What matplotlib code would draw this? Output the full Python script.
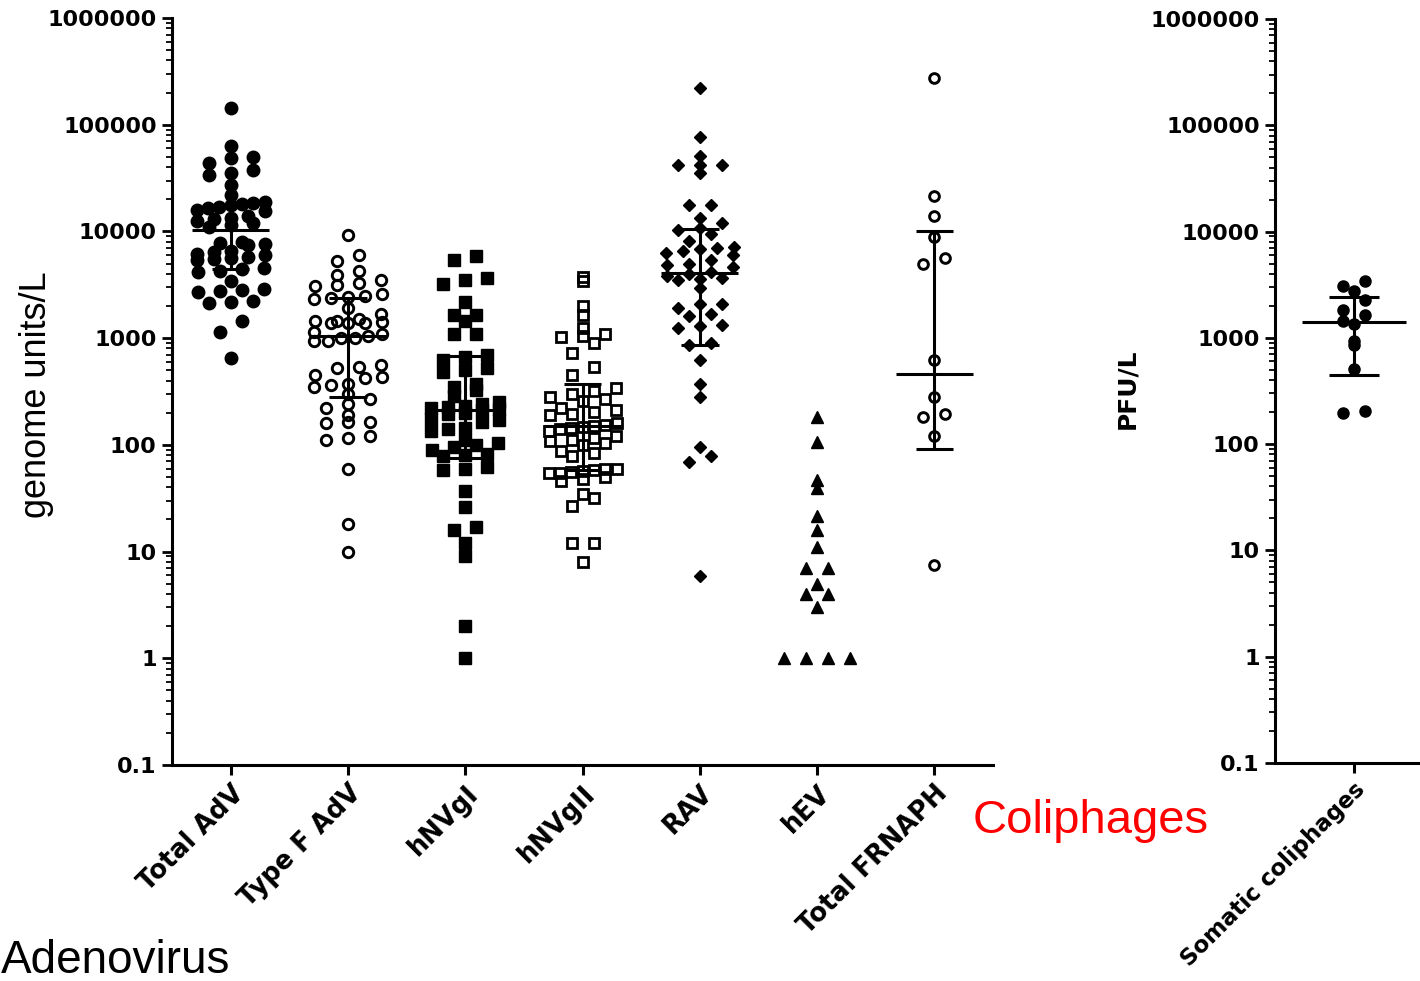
import numpy as np
import matplotlib
matplotlib.use("Agg")
import matplotlib.pyplot as plt
from matplotlib.ticker import FixedLocator, LogLocator, NullFormatter

# ---- data ----
categories = ["Total AdV", "Type F AdV", "hNVgI", "hNVgII", "RAV", "hEV", "Total FRNAPH"]

total_adv = [142000, 63000, 50000, 49000, 44000, 38000, 35000, 34000, 27500, 22000,
             19000, 18500, 18000, 17500, 17000, 16500, 16000, 15500,
             14000, 13500, 13000, 12500, 12000, 11500, 11000,
             8000, 7800, 7600, 7400,
             6600, 6400, 6200, 6000, 5800,
             5600, 5500, 5400,
             4500, 4400, 4300, 4200,
             3400,
             2900, 2800, 2750, 2700,
             2250, 2200, 2150,
             1440, 1150, 650]
type_f_adv = [9300, 6000, 5300, 4300, 3900, 3500, 3300, 3150, 3100, 2600, 2500, 2450,
              2400, 2350, 1900, 1700, 1500, 1450, 1450, 1420, 1400, 1400, 1380, 1150,
              1100, 1050, 1000, 1000, 950, 950, 560, 540, 520, 450, 430, 420, 370, 360,
              350, 300, 270, 240, 220, 190, 165, 165, 160, 120, 115, 110, 60, 18, 10]
hnvg1 = [5900, 5400, 3650, 3500, 3200, 2200, 1650, 1650, 1440, 1100, 1100,
         700, 660, 630, 520, 500, 480, 370, 350, 330, 290,
         250, 240, 230, 225, 220, 215, 210, 200, 195,
         175, 170, 165, 145, 140, 135,
         110, 105, 100, 95, 90, 82, 80, 78, 62, 60, 58,
         37, 26, 17, 16, 12, 9, 2, 1]
hnvg2 = [3750, 3450, 2000, 1650, 1250, 1100, 1050, 1030, 900, 720, 540, 450,
         340, 320, 300, 280, 270, 255,
         220, 210, 205, 195, 190,
         160, 155, 150, 148, 145, 140, 135,
         120, 115, 112, 108, 105, 100,
         88, 83, 78,
         60, 59, 58, 57, 56, 55, 54,
         50, 48, 46, 35, 32, 27, 12, 12, 8]
rav = [223000, 77000, 51000, 42000, 42000, 42000, 35000, 17600, 17600, 13500, 12000,
       10800, 10300, 9500, 8200, 7200, 7000, 6800, 6600, 6300, 6000, 5400, 5000, 4800,
       4600, 4200, 4000, 3800, 3700, 3600, 3500, 2950, 2100, 2100, 1900, 1700, 1600,
       1320, 1300, 1250, 900, 860, 620, 370, 280, 96, 79, 69, 5.9]
hev = [183, 107, 47, 39, 21.5, 16, 11, 7, 7, 5, 4, 4, 3, 1, 1, 1, 1]
frnaph = [275000, 21300, 14000, 8900, 5600, 4900, 630, 280, 195, 183, 120, 7.5]

somatic = [3450, 3100, 2750, 2270, 1830, 1650, 1450, 1350, 930, 850, 510, 205, 195]

# median and interquartile bars (None = no bar drawn)
medians = [10400, 1050, 210, 150, 4070, None, 460]
lower_q = [4400, 280, 75, 58, 860, None, 92]
upper_q = [17500, 2400, 680, 370, 10500, None, 10200]
somatic_stats = (1420, 445, 2400)

tick_vals = [0.1, 1, 10, 100, 1000, 10000, 100000, 1000000]
tick_text = ["0.1", "1", "10", "100", "1000", "10000", "100000", "1000000"]

groups = [total_adv, type_f_adv, hnvg1, hnvg2, rav, hev, frnaph]
styles = [
    dict(marker="o", ms=9, mfc="black", mec="black", mew=1),
    dict(marker="o", ms=7.5, mfc="none", mec="black", mew=2.1),
    dict(marker="s", ms=8.3, mfc="black", mec="black", mew=1),
    dict(marker="s", ms=7.2, mfc="none", mec="black", mew=2.0),
    dict(marker="D", ms=6, mfc="black", mec="black", mew=1),
    dict(marker="^", ms=8.5, mfc="black", mec="black", mew=1),
    dict(marker="o", ms=7, mfc="none", mec="black", mew=2.1),
]

YTICKFONT = dict(family="DejaVu Sans", weight="bold", size=16)
XTICKFONT = dict(family="DejaVu Sans", weight="bold", size=18.5)


def swarm_x(ax, center, values, spacing_px=22, max_width_px=68, bin_px=11):
    """Prism-like layout: bin by screen height, spread each bin around the centre."""
    vals = np.asarray(values, dtype=float)
    pts = ax.transData.transform(np.column_stack([np.full(len(vals), center), vals]))
    unit_px = ax.transData.transform((center + 1, 1))[0] - ax.transData.transform((center, 1))[0]
    bins = np.floor(pts[:, 1] / bin_px)
    off = np.zeros(len(vals))
    for b in np.unique(bins):
        idx = np.where(bins == b)[0]
        idx = idx[np.argsort(vals[idx])]
        n = len(idx)
        step = spacing_px if n == 1 else min(spacing_px, max_width_px / (n - 1))
        off[idx] = (np.arange(n) - (n - 1) / 2) * step
    return center + off / unit_px


def style_axis(ax):
    ax.set_yscale("log")
    ax.set_ylim(0.1, 1e6)
    for s in ("top", "right"):
        ax.spines[s].set_visible(False)
    for s in ("left", "bottom"):
        ax.spines[s].set_linewidth(2.2)
    ax.yaxis.set_major_locator(FixedLocator(tick_vals))
    ax.set_yticklabels(tick_text, fontdict=YTICKFONT)
    ax.yaxis.set_minor_locator(LogLocator(base=10, subs=np.arange(2, 10), numticks=20))
    ax.yaxis.set_minor_formatter(NullFormatter())
    ax.tick_params(axis="y", which="major", length=7, width=2.0, pad=4)
    ax.tick_params(axis="y", which="minor", length=4, width=1.3)
    ax.tick_params(axis="x", which="major", length=7, width=2.2, pad=4)


def draw_bar(ax, c, med, lo, hi):
    ax.vlines(c, lo, hi, color="black", lw=2.2, zorder=4)
    ax.hlines(med, c - 0.33, c + 0.33, color="black", lw=2.2, zorder=4)
    ax.hlines([lo, hi], c - 0.16, c + 0.16, color="black", lw=2.2, zorder=4)


fig = plt.figure(figsize=(14.2, 9.81), dpi=100)

ax = fig.add_axes([172 / 1420, 1 - 765 / 981, 821 / 1420, 747 / 981])
style_axis(ax)
ax.set_xlim(-0.5, len(categories) - 0.5)

for i, (vals, st) in enumerate(zip(groups, styles)):
    xs = swarm_x(ax, i, vals)
    ax.plot(xs, vals, linestyle="none", zorder=3, **st)
    if medians[i] is not None:
        draw_bar(ax, i, medians[i], lower_q[i], upper_q[i])

ax.set_xticks(range(len(categories)))
ax.set_xticklabels(categories, rotation=45, ha="right", va="top",
                   rotation_mode="anchor", fontdict=XTICKFONT)

# right panel: somatic coliphages
ax2 = fig.add_axes([1275 / 1420, 1 - 763 / 981, 158 / 1420, 744 / 981])
style_axis(ax2)
ax2.set_xlim(-0.5, 0.5)
xs = swarm_x(ax2, 0, somatic)
ax2.plot(xs, somatic, linestyle="none", marker="o", ms=8, mfc="black", mec="black", zorder=3)
draw_bar(ax2, 0, *somatic_stats)
ax2.set_xticks([0])
ax2.set_xticklabels(["Somatic coliphages"], rotation=45, ha="right", va="top",
                    rotation_mode="anchor", fontdict=dict(XTICKFONT, size=16.5))

fig.text(37 / 1420, 1 - 395 / 981, "genome units/L", rotation=90, ha="center", va="center",
         family="Liberation Sans", size=26)
fig.text(1127 / 1420, 1 - 389 / 981, "PFU/L", rotation=90, ha="center", va="center",
         family="DejaVu Sans", weight="bold", size=18)
fig.text(973 / 1420, 1 - 833 / 981, "Coliphages", color="red", ha="left", va="baseline",
         family="Liberation Sans", size=34)
fig.text(1 / 1420, 1 - 973 / 981, "Adenovirus", color="black", ha="left", va="baseline",
         family="Liberation Sans", size=33)

fig.savefig("out.png", dpi=100)
